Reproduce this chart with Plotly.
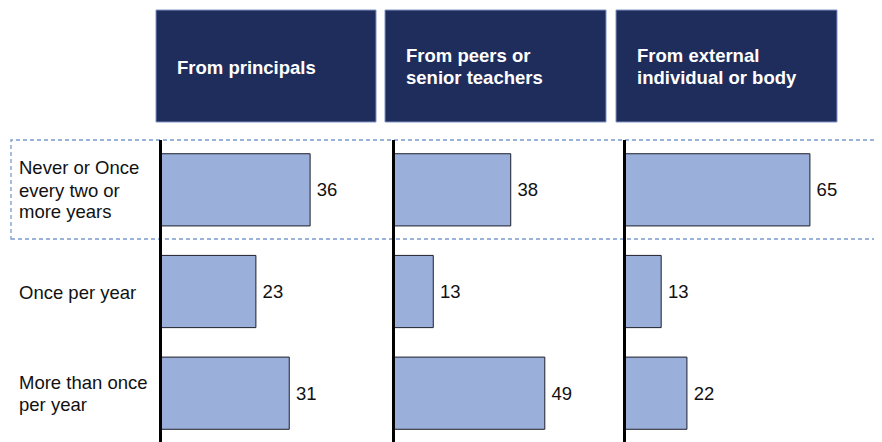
import plotly.graph_objects as go

W, H = 882, 442
OFF = 8  # default page margin around the plot div

categories = ["Never or Once<br>every two or<br>more years", "Once per year", "More than once<br>per year"]
panels = ["From principals", "From peers or<br>senior teachers", "From external<br>individual or body"]
principals = [36, 23, 31]
peers = [38, 13, 49]
external = [65, 13, 22]
series = [principals, peers, external]

FONT = "Arial, Liberation Sans, sans-serif"
FS = 18.5
LINE_H = 22
BAR = "#9BAFDB"
NAVY = "#1F2D5C"
DASH = "#7B9BCB"

FW, FH = W - OFF, H - OFF

def px(x):
    return (x - OFF) / FW

def py(y):
    return 1 - (y - OFF) / FH

# panel geometry in page pixels: (axis left, axis right, x max)
panel_px = [(160, 386, 54.2), (393, 617, 72.3), (624, 882, 90.2)]
header_px = [(156, 376), (385, 606), (616, 837)]
row_centers = [190, 292, 393.5]

fig = go.Figure()
for i, vals in enumerate(series):
    ax = "x" if i == 0 else f"x{i+1}"
    fig.add_trace(go.Bar(
        y=list(range(len(categories))), x=vals, orientation="h",
        xaxis=ax, yaxis="y",
        marker=dict(color=BAR, line=dict(color="#1e1e2a", width=1)),
        text=["\u2009" + str(v) for v in vals], textposition="outside",
        textfont=dict(family=FONT, size=FS, color="#111"),
        cliponaxis=False, showlegend=False, hoverinfo="skip",
    ))

layout = dict(
    width=FW, height=FH, margin=dict(l=0, r=0, t=0, b=0),
    plot_bgcolor="white", paper_bgcolor="white",
    bargap=0.29,
    yaxis=dict(domain=[0, py(139)], range=[2.48, -0.5], visible=False, anchor="x"),
)
for i, (x0, x1, xmax) in enumerate(panel_px):
    key = "xaxis" if i == 0 else f"xaxis{i+1}"
    layout[key] = dict(domain=[px(x0), px(x1)], range=[0, xmax], visible=False, anchor="y")
fig.update_layout(**layout)

shapes = []
annotations = []

def add_lines(text, x, yc, bold=False, color="#111"):
    lines = text.split("<br>")
    n = len(lines)
    for k, line in enumerate(lines):
        y = yc + (k - (n - 1) / 2) * LINE_H
        annotations.append(dict(xref="paper", yref="paper", x=px(x), y=py(y),
                                text=f"<b>{line}</b>" if bold else line,
                                showarrow=False, xanchor="left", yanchor="middle",
                                font=dict(family=FONT, size=FS, color=color)))

# dashed box around first row
shapes.append(dict(type="rect", xref="paper", yref="paper",
                   x0=px(11), x1=px(890), y0=py(239), y1=py(140),
                   line=dict(color=DASH, width=1.3, dash="4px,3px")))

# vertical axis lines
for x0, x1, xmax in panel_px:
    shapes.append(dict(type="line", xref="paper", yref="paper",
                       x0=px(x0 + 0.5), x1=px(x0 + 0.5), y0=0, y1=py(140),
                       line=dict(color="black", width=3)))

# header boxes
for (h0, h1), title in zip(header_px, panels):
    shapes.append(dict(type="rect", xref="paper", yref="paper",
                       x0=px(h0), x1=px(h1), y0=py(122), y1=py(10),
                       fillcolor=NAVY, line=dict(color="#8094C4", width=1)))
    add_lines(title, h0 + 19, 67, bold=True, color="white")

# row labels
for cat, yc in zip(categories, row_centers):
    add_lines(cat, 17, yc)

fig.update_layout(shapes=shapes, annotations=annotations)
fig.write_html("out.html")
